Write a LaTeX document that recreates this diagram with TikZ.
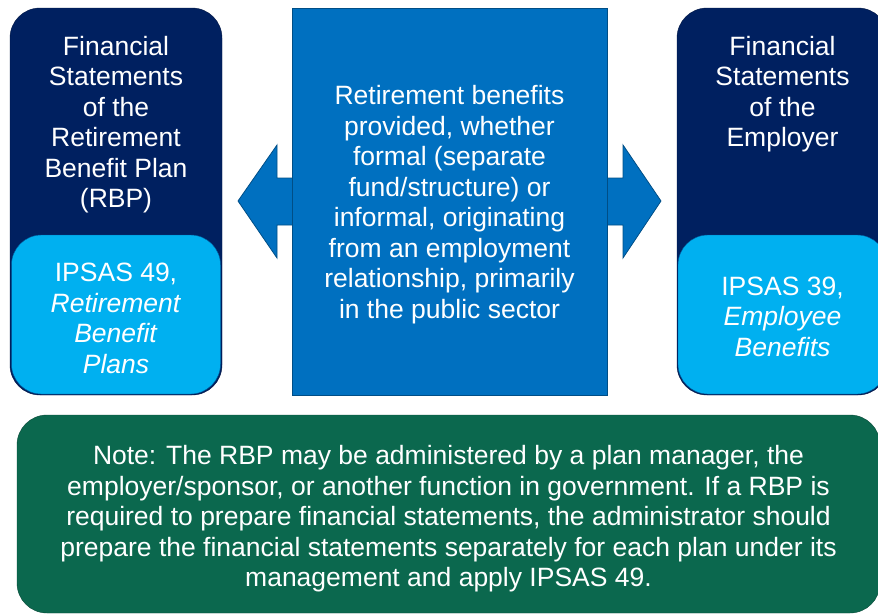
\documentclass[tikz,border=0pt]{standalone}
\usepackage{fontspec}
\setmainfont{Liberation Sans}
\usetikzlibrary{positioning}

\definecolor{navy}{RGB}{0,32,96}
\definecolor{skyblue}{RGB}{0,176,240}
\definecolor{midblue}{RGB}{0,112,192}
\definecolor{notegreen}{RGB}{11,104,78}

\begin{document}
\begin{tikzpicture}[
      x=1pt, y=-1pt,
      font=\fontsize{26.5}{30.5}\selectfont,
      panel/.style={
          rectangle,
          draw=navy!70!black,
          fill=navy,
          rounded corners=30pt,
          minimum width=212pt,
          minimum height=387pt,
          inner sep=0pt
        },
      stdbox/.style={
          rectangle,
          draw=midblue!80!black,
          fill=skyblue,
          rounded corners=30pt,
          minimum width=209pt,
          minimum height=159pt,
          inner sep=0pt
        },
      title/.style={text=white, align=center, inner sep=0pt},
      flow/.style={fill=midblue, draw=midblue!70!black, line width=0.8pt}
    ]
    \useasboundingbox (0,0) rectangle (878,614);

    % double arrow between the two sets of statements
    \draw[flow] (238,201) -- (277,145) -- (277,178) -- (623,178) -- (623,145)
      -- (661,201) -- (623,258) -- (623,225) -- (277,225) -- (277,258) -- cycle;

    \node[rectangle, fill=midblue, draw=midblue!70!black, minimum width=315pt,
      minimum height=387pt] (benefits) at (449.5,201.5) {};
    \node[title] (benefitstext) at ([yshift=-3pt]benefits.center)
      {Retirement benefits\\provided, whether\\formal (separate\\fund/structure) or\\
       informal, originating\\from an employment\\relationship, primarily\\in the public sector};

    % plan side
    \node[panel] (rbp) at (116,201.5) {};
    \node[title, anchor=north] (rbptitle) at ([yshift=-28pt]rbp.north)
      {Financial\\Statements\\of the\\Retirement\\Benefit Plan\\(RBP)};
    \node[stdbox, anchor=south] (rbpstd) at ([yshift=1pt]rbp.south) {};
    \node[title] (rbpstdtext) at ([yshift=-4pt]rbpstd.center)
      {IPSAS 49,\\\textit{Retirement}\\\textit{Benefit}\\\textit{Plans}};

    % employer side
    \node[panel, minimum width=211pt] (employer) at (782.5,201.5) {};
    \node[title, anchor=north] (emptitle) at ([yshift=-28pt]employer.north)
      {Financial\\Statements\\of the\\Employer};
    \node[stdbox, anchor=south] (empstd) at ([yshift=1pt]employer.south) {};
    \node[title] (empstdtext) at ([yshift=-2pt]empstd.center)
      {IPSAS 39,\\\textit{Employee}\\\textit{Benefits}};

    % note underneath
    \node[rectangle, rounded corners=30pt, fill=notegreen, draw=notegreen!70!black,
      minimum width=863pt, minimum height=198pt] (note) at (448.5,514) {};
    \node[title] (notetext) at ([yshift=-5pt]note.center)
      {Note: The RBP may be administered by a plan manager, the\\
       employer/sponsor, or another function in government. If a RBP is\\
       required to prepare financial statements, the administrator should\\
       prepare the financial statements separately for each plan under its\\
       management and apply IPSAS 49.};
  \end{tikzpicture}
\end{document}
